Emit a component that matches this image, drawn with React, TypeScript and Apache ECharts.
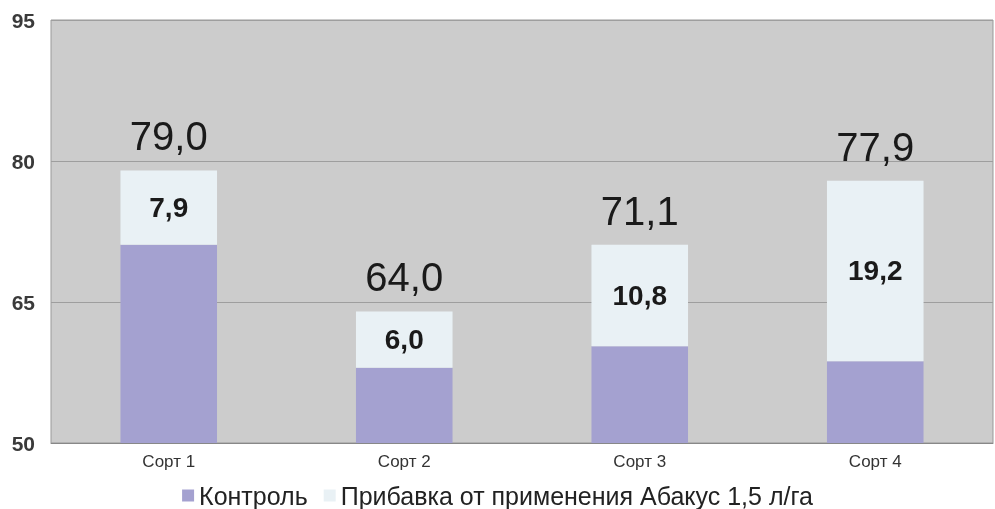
import React, { useEffect, useRef } from "react";
import * as echarts from "echarts";

const categories = ["Сорт 1", "Сорт 2", "Сорт 3", "Сорт 4"];
const controlValues = [71.1, 58.0, 60.3, 58.7];
const incrementValues = [7.9, 6.0, 10.8, 19.2];
const totalValues = [79.0, 64.0, 71.1, 77.9];
const seriesNames = ["Контроль", "Прибавка от применения Абакус 1,5 л/га"];

const fmt = (v: number) => v.toFixed(1).replace(".", ",");

export default function App() {
  const ref = useRef<HTMLDivElement>(null);
  useEffect(() => {
    if (!ref.current) return;
    const chart = echarts.init(ref.current, undefined, { renderer: "svg" });
    chart.setOption({
      animation: false,
      textStyle: { fontFamily: "Liberation Sans, Arial, sans-serif" },
      grid: {
        left: 51,
        right: 2,
        top: 20,
        bottom: 66,
        show: true,
        backgroundColor: "#cccccc",
        borderColor: "#999999",
        borderWidth: 1,
      },
      legend: {
        top: 478,
        left: "center",
        itemWidth: 12,
        itemHeight: 12,
        itemGap: 16,
        icon: "rect",
        textStyle: { fontSize: 25, color: "#222" },
        data: seriesNames,
      },
      xAxis: {
        type: "category",
        data: categories,
        axisLine: { lineStyle: { color: "#888" } },
        axisTick: { show: false },
        axisLabel: { fontSize: 17, color: "#333", margin: 10 },
      },
      yAxis: {
        type: "value",
        min: 50,
        max: 95,
        interval: 15,
        axisLine: { show: false },
        axisTick: { show: false },
        splitLine: { lineStyle: { color: "#9e9e9e", width: 1 } },
        axisLabel: {
          fontSize: 21,
          fontWeight: "bold",
          color: "#3a3a3a",
          margin: 16,
        },
      },
      series: [
        {
          name: seriesNames[0],
          type: "bar",
          stack: "a",
          barWidth: "41%",
          data: controlValues,
          itemStyle: { color: "#a4a1d0" },
        },
        {
          name: seriesNames[1],
          type: "bar",
          stack: "a",
          data: incrementValues,
          itemStyle: { color: "#e9f1f5" },
          label: {
            show: true,
            position: "inside",
            fontSize: 28,
            fontWeight: "bold",
            color: "#1a1a1a",
            formatter: (p: any) => fmt(p.value),
          },
        },
        {
          name: "total",
          type: "scatter",
          data: totalValues,
          symbolSize: 0,
          silent: true,
          itemStyle: { opacity: 1 },
          label: {
            show: true,
            position: "top",
            distance: 14,
            fontSize: 40,
            color: "#1a1a1a",
            formatter: (p: any) => fmt(p.value),
          },
        },
      ],
    });
    return () => chart.dispose();
  }, []);
  return (
    <div
      ref={ref}
      style={{ position: "fixed", left: 0, top: 0, width: 995, height: 509 }}
    />
  );
}
